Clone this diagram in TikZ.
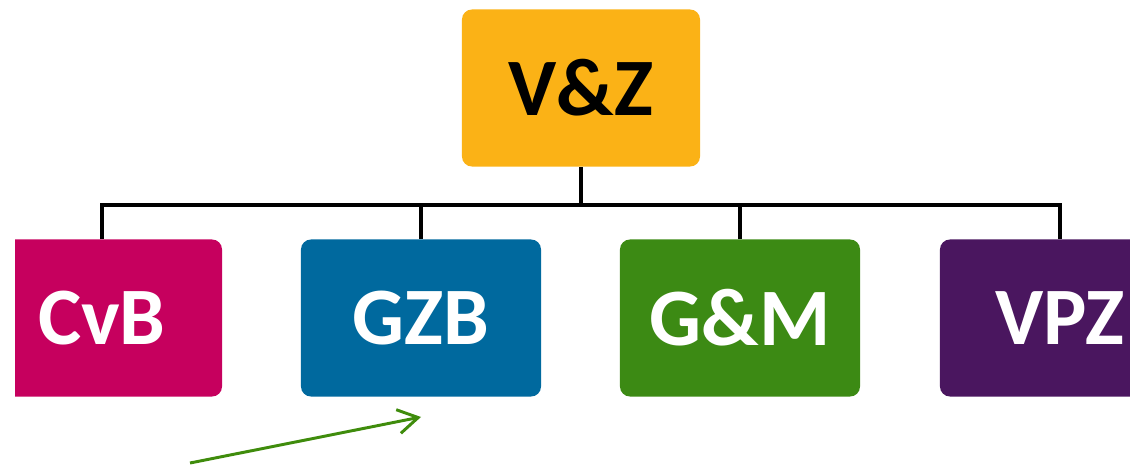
\documentclass[tikz,border=0pt]{standalone}
\usepackage{fontspec}
\setmainfont{Carlito}
\usepackage{tikz}
\usetikzlibrary{arrows.meta}
\definecolor{vzorange}{HTML}{FBB216}
\definecolor{cvbred}{HTML}{C6005E}
\definecolor{gzbblue}{HTML}{00699E}
\definecolor{gmgreen}{HTML}{3C8A14}
\definecolor{vpzpurple}{HTML}{4A165F}
\definecolor{hintgreen}{HTML}{3F8C0C}

\begin{document}
\begin{tikzpicture}[
  x=0.025cm, y=-0.025cm,
  every node/.style={font=\bfseries\fontsize{58}{60}\selectfont},
  unit/.style={rounded corners=0.25cm, minimum width=6cm, minimum height=3.925cm, inner sep=0pt, text=white},
  link/.style={line width=2.2pt, black},
  hint/.style={-{Straight Barb[length=0.5cm,width=0.6cm]}, line width=2.1pt, hintgreen}
]
\useasboundingbox (0,0) rectangle (1130,465);
\node[unit, fill=vzorange, text=black, minimum width=5.95cm] (vz) at (581,88) {V\&Z};
\begin{scope}
  \clip (15,230) rectangle (240,400);
  \node[unit, fill=cvbred] (cvb) at (102,318) {CvB};
\end{scope}
\node[unit, fill=gzbblue] (gzb) at (421,318) {GZB};
\node[unit, fill=gmgreen] (gm) at (740,318) {G\&M};
\node[unit, fill=vpzpurple] (vpz) at (1060,318) {VPZ};

\coordinate (bus) at (581,205);
\draw[link] (vz.south) -- (bus);
\draw[link] (cvb.north) -- (cvb.north |- bus) -- (vpz.north |- bus) -- (vpz.north);
\draw[link] (gzb.north) -- (gzb.north |- bus);
\draw[link] (gm.north) -- (gm.north |- bus);

\coordinate (tail) at (190,463);
\coordinate (head) at (421,417);
\draw[hint] (tail) -- (head);
\end{tikzpicture}
\end{document}
